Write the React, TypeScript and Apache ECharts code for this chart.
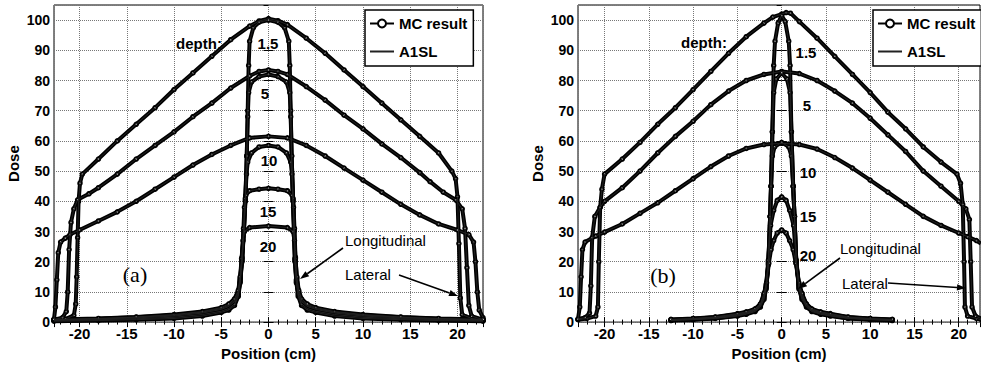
import React, { useEffect, useRef } from "react";
import * as echarts from "echarts";

type P = [number, number][];

// ---------- Panel (a) ----------
const aLat1: P = [[-22.7, 0.6], [-21.5, 1.0], [-20.6, 2.2], [-20.4, 6], [-20.3, 15], [-20.2, 28], [-20.1, 40], [-19.95, 46], [-19.7, 49], [-18, 54], [-16, 60], [-14, 65.5], [-12, 71], [-10, 77], [-8, 82.5], [-6, 88], [-4, 93.5], [-2, 98], [-1, 99.7], [0, 100.5], [1, 99.8], [2, 98.5], [4, 94], [6, 89], [8, 83.5], [10, 78], [12, 72.5], [14, 67], [16, 61.5], [18, 56], [19.4, 50], [19.8, 47.5], [20.0, 41.5], [20.15, 26], [20.3, 8], [20.5, 2.5], [21.5, 1.2], [22.7, 0.6]];
const aLat5: P = [[-22.7, 0.8], [-21.8, 1.5], [-21.4, 3.5], [-21.25, 10], [-21.1, 24], [-20.9, 33], [-20.6, 37.5], [-20.2, 40.5], [-19, 42.5], [-18, 44.5], [-16, 49], [-14, 54], [-12, 58.5], [-10, 63], [-8, 68], [-6, 72.5], [-4, 77.5], [-2, 81.5], [-1, 83], [0, 83.5], [1, 83], [2, 82], [4, 78], [6, 73.5], [8, 68.5], [10, 64], [12, 59], [14, 54.5], [16, 49.5], [17.1, 46.5], [18.5, 43], [19.8, 40.5], [20.5, 37.5], [20.8, 31], [21.0, 18], [21.2, 5.5], [21.5, 2], [22.7, 0.8]];
const aLat10: P = [[-22.7, 1.0], [-22.55, 5], [-22.4, 14], [-22.25, 23], [-22.0, 26.5], [-21.5, 27.8], [-21, 29], [-20, 30.5], [-18, 33.5], [-16, 36.5], [-14, 40], [-12, 44], [-10, 48], [-8, 52], [-6, 55.5], [-4, 58.5], [-2, 61], [0, 61.5], [2, 61], [4, 58.5], [6, 55], [8, 51], [10, 47], [12, 43], [14, 39], [16, 35.5], [18, 32.5], [20, 30.5], [21.2, 29], [21.7, 26.5], [21.9, 20], [22.1, 10], [22.3, 4], [22.7, 1.5]];
const aLong1: P = [[-22.7, 0.3], [-18, 0.5], [-14, 0.8], [-10, 1.2], [-7, 2], [-5, 3.2], [-4.2, 4], [-3.6, 5.5], [-3.2, 8.5], [-3.0, 13], [-2.8, 20], [-2.6, 30], [-2.45, 40], [-2.3, 55], [-2.2, 70], [-2.1, 85], [-2.0, 93], [-1.6, 97.5], [-1, 99.3], [0, 100], [1, 99.3], [1.7, 97.5], [2.15, 93], [2.25, 85], [2.35, 70], [2.45, 55], [2.6, 40], [2.7, 30], [2.8, 20], [2.95, 13], [3.15, 8.5], [3.5, 5.5], [4.1, 4], [5, 3.2], [7, 2], [10, 1.2], [14, 0.8], [18, 0.5], [22.7, 0.3]];
const aLong5: P = [[-22.7, 0.5], [-18, 0.8], [-14, 1.1], [-10, 1.6], [-7, 2.5], [-5, 3.6], [-4.2, 4.5], [-3.6, 6], [-3.2, 9], [-3.0, 13.5], [-2.8, 20.5], [-2.6, 30.5], [-2.45, 40.5], [-2.3, 55], [-2.2, 68], [-2.1, 76], [-1.8, 79.5], [-1, 81.3], [0, 82], [1, 81.3], [1.9, 79.5], [2.25, 76], [2.35, 68], [2.45, 55], [2.6, 40.5], [2.7, 30.5], [2.8, 20.5], [2.95, 13.5], [3.15, 9], [3.5, 6], [4.1, 4.5], [5, 3.6], [7, 2.5], [10, 1.6], [14, 1.1], [18, 0.8], [22.7, 0.5]];
const aLong10: P = [[-22.7, 0.7], [-18, 1.0], [-14, 1.4], [-10, 2.0], [-7, 3.0], [-5, 4.2], [-4.2, 5.2], [-3.6, 6.8], [-3.2, 9.5], [-3.0, 14], [-2.8, 21], [-2.6, 31], [-2.45, 41], [-2.33, 49], [-2.2, 53], [-1.8, 56], [-1, 58], [0, 58.5], [1, 58], [1.9, 56], [2.35, 53], [2.48, 49], [2.6, 41], [2.7, 31], [2.8, 21], [2.95, 14], [3.15, 9.5], [3.5, 6.8], [4.1, 5.2], [5, 4.2], [7, 3.0], [10, 2.0], [14, 1.4], [18, 1.0], [22.7, 0.7]];
const aLong15: P = [[-22.7, 0.8], [-18, 1.1], [-14, 1.6], [-10, 2.3], [-7, 3.3], [-5, 4.5], [-4.2, 5.6], [-3.6, 7.2], [-3.2, 10], [-3.0, 14.5], [-2.8, 21.5], [-2.65, 31], [-2.55, 38], [-2.4, 42], [-2, 43.5], [-1, 44], [0, 44.3], [1, 44], [2, 43.5], [2.5, 42], [2.65, 38], [2.75, 31], [2.85, 21.5], [3.0, 14.5], [3.2, 10], [3.5, 7.2], [4.1, 5.6], [5, 4.5], [7, 3.3], [10, 2.3], [14, 1.6], [18, 1.1], [22.7, 0.8]];
const aLong20: P = [[-22.7, 0.9], [-18, 1.2], [-14, 1.7], [-10, 2.5], [-7, 3.5], [-5, 4.8], [-4.2, 6], [-3.6, 7.7], [-3.2, 10.5], [-3.0, 15], [-2.85, 21], [-2.7, 27], [-2.55, 30], [-2, 31.3], [0, 31.8], [2, 31.3], [2.6, 30], [2.75, 27], [2.85, 21], [3.0, 15], [3.2, 10.5], [3.5, 7.7], [4.1, 6], [5, 4.8], [7, 3.5], [10, 2.5], [14, 1.7], [18, 1.2], [22.7, 0.9]];

// ---------- Panel (b) ----------
const bLat1: P = [[-23, 0.8], [-22, 1.2], [-21, 2], [-20.75, 5], [-20.65, 20], [-20.5, 38], [-20.3, 44], [-20.0, 49], [-18, 54], [-16, 59.5], [-14, 65.5], [-12, 71], [-10, 77], [-8, 83], [-6, 89], [-4, 94.5], [-2, 99], [-1, 101], [0, 102], [0.5, 102.5], [1, 102.3], [2, 99.5], [4, 94], [6, 88], [8, 82], [10, 76], [12, 69.5], [14, 64], [16, 58], [18, 53], [19.8, 49], [20.2, 46], [20.45, 39], [20.6, 20], [20.7, 5], [21, 2], [22, 1.2], [22.5, 0.8]];
const bLat5: P = [[-23, 1], [-22.2, 1.5], [-21.7, 3], [-21.55, 12], [-21.4, 28], [-21.1, 35], [-20.5, 38], [-20, 40], [-18, 44.5], [-16, 50], [-14, 56], [-12, 61.5], [-10, 66.5], [-8, 72], [-6, 76.5], [-4, 80], [-2, 82], [0, 83], [2, 82.3], [4, 80], [6, 76.5], [8, 72.5], [10, 67.5], [12, 62], [14, 56.5], [16, 50], [18, 45], [20, 40], [20.8, 37.5], [21.2, 34], [21.35, 20], [21.5, 5], [21.9, 2], [22.5, 1.2]];
const bLat10: P = [[-23, 1], [-22.8, 5], [-22.65, 15], [-22.5, 24], [-22.2, 26.5], [-21, 28.5], [-20, 29.8], [-18, 32.5], [-16, 36], [-14, 39.5], [-12, 43.5], [-10, 47.5], [-8, 51.5], [-6, 55], [-4, 57.5], [-2, 58.8], [0, 59.2], [2, 58.8], [4, 57.3], [6, 54.5], [8, 51], [10, 47], [12, 43], [14, 39], [16, 35], [18, 32], [20, 29.5], [21, 28.3], [22, 27], [22.5, 26]];
const bLong1: P = [[-12.5, 0.5], [-10, 0.8], [-7.5, 1.2], [-5, 2], [-4, 2.6], [-3, 3.5], [-2.4, 5], [-2, 7.5], [-1.75, 11], [-1.5, 19], [-1.3, 35], [-1.2, 45], [-1.05, 63], [-0.9, 85], [-0.75, 93], [-0.4, 99], [0, 101.5], [0.4, 99.5], [0.8, 93], [0.95, 85], [1.1, 63], [1.3, 45], [1.45, 35], [1.65, 20], [1.95, 11], [2.3, 7.5], [2.8, 5], [3.4, 3.5], [4.4, 2.6], [5.5, 2], [7.5, 1.2], [10, 0.8], [12.5, 0.5]];
const bLong5: P = [[-12.5, 0.6], [-10, 0.9], [-7.5, 1.3], [-5, 2.2], [-4, 2.8], [-3, 3.8], [-2.4, 5.3], [-2, 8], [-1.75, 11.5], [-1.5, 19.5], [-1.3, 35], [-1.2, 45], [-1.05, 63], [-0.9, 76], [-0.6, 80.5], [0, 82.5], [0.6, 80.5], [0.95, 76], [1.1, 63], [1.3, 45], [1.45, 35], [1.65, 20], [1.95, 11.5], [2.3, 8], [2.8, 5.3], [3.4, 3.8], [4.4, 2.8], [5.5, 2.2], [7.5, 1.3], [10, 0.9], [12.5, 0.6]];
const bLong10: P = [[-12.5, 0.7], [-10, 1.0], [-7.5, 1.5], [-5, 2.4], [-4, 3], [-3, 4], [-2.4, 5.6], [-2, 8.5], [-1.75, 12], [-1.5, 20], [-1.3, 35], [-1.2, 45], [-1.05, 55], [-0.8, 58], [0, 59.5], [0.8, 58], [1.1, 55], [1.3, 45], [1.45, 35], [1.65, 20], [1.95, 12], [2.3, 8.5], [2.8, 5.6], [3.4, 4], [4.4, 3], [5.5, 2.4], [7.5, 1.5], [10, 1.0], [12.5, 0.7]];
const bLong15: P = [[-12.5, 0.8], [-10, 1.1], [-7.5, 1.6], [-5, 2.6], [-4, 3.2], [-3, 4.2], [-2.4, 5.8], [-2, 9], [-1.75, 12.5], [-1.5, 20.5], [-1.25, 32], [-0.9, 37], [-0.5, 40.3], [0, 41.5], [0.5, 40.3], [0.9, 37], [1.35, 32], [1.65, 20.5], [1.95, 12.5], [2.3, 9], [2.8, 5.8], [3.4, 4.2], [4.4, 3.2], [5.5, 2.6], [7.5, 1.6], [10, 1.1], [12.5, 0.8]];
const bLong20: P = [[-12.5, 0.9], [-10, 1.2], [-7.5, 1.7], [-5, 2.8], [-4, 3.4], [-3, 4.4], [-2.4, 6], [-2, 9.5], [-1.7, 13], [-1.45, 19.5], [-1.2, 24], [-0.9, 27], [-0.5, 29.5], [0, 30.5], [0.5, 29.5], [0.9, 27], [1.3, 24], [1.6, 19.5], [1.95, 13], [2.3, 9.5], [2.8, 6], [3.4, 4.4], [4.4, 3.4], [5.5, 2.8], [7.5, 1.7], [10, 1.2], [12.5, 0.9]];

const panelACurves = [aLat1, aLat5, aLat10, aLong1, aLong5, aLong10, aLong15, aLong20];
const panelBCurves = [bLat1, bLat5, bLat10, bLong1, bLong5, bLong10, bLong15, bLong20];
const legendNames = ["MC result", "A1SL"];

const FONT = 'Arial, "Liberation Sans", Helvetica, sans-serif';
const SERIF = '"Liberation Serif", "Times New Roman", serif';

function buildSeries(curves: P[], xi: number, yi: number) {
  const out: any[] = [];
  for (const d of curves) {
    out.push({
      type: "line", name: legendNames[0], data: d, xAxisIndex: xi, yAxisIndex: yi,
      symbol: "emptyCircle", symbolSize: 3.5, showSymbol: true, showAllSymbol: true,
      lineStyle: { color: "#000", width: 4 },
      itemStyle: { color: "#000", borderColor: "#000", borderWidth: 1 },
      silent: true, z: 3,
    });
    out.push({
      type: "line", name: legendNames[1], data: d, xAxisIndex: xi, yAxisIndex: yi,
      symbol: "none", lineStyle: { color: "#222", width: 1 },
      itemStyle: { color: "rgba(0,0,0,0)", borderColor: "rgba(0,0,0,0)" },
      silent: true, z: 4,
    });
  }
  return out;
}

function xAxisPair(gridIndex: number, min: number, max: number) {
  const common = {
    type: "value", gridIndex, min, max, splitNumber: 9,
    axisLine: { show: false },
    axisTick: { show: true, inside: true, length: 5, lineStyle: { color: "#000", width: 1 } },
    minorTick: { show: true, splitNumber: 5, length: 2.5, lineStyle: { color: "#000" } },
  };
  return [
    {
      ...common, position: "bottom",
      axisLabel: { color: "#000", fontFamily: FONT, fontWeight: "bold", fontSize: 15, margin: 4, showMinLabel: false, showMaxLabel: false },
      splitLine: { show: true, lineStyle: { color: "#777", type: "dotted", width: 1 } },
      name: "Position (cm)", nameLocation: "middle", nameGap: 19,
      nameTextStyle: { color: "#000", fontFamily: FONT, fontWeight: "bold", fontSize: 15 },
    },
    { ...common, position: "top", axisLabel: { show: false }, splitLine: { show: false } },
  ];
}

function yAxisPair(gridIndex: number) {
  const common = {
    type: "value", gridIndex, min: 0, max: 105, interval: 10,
    axisLine: { show: false },
    axisTick: { show: true, inside: true, length: 5, lineStyle: { color: "#000", width: 1 } },
  };
  return [
    {
      ...common, position: "left",
      axisLabel: { color: "#000", fontFamily: FONT, fontWeight: "bold", fontSize: 14, margin: 4, showMaxLabel: false },
      splitLine: { show: true, lineStyle: { color: "#777", type: "dotted", width: 1 } },
      name: "Dose", nameLocation: "middle", nameGap: 33,
      nameTextStyle: { color: "#000", fontFamily: FONT, fontWeight: "bold", fontSize: 15 },
    },
    { ...common, position: "right", axisLabel: { show: false }, splitLine: { show: false } },
  ];
}

function legendAt(left: number, top: number) {
  return {
    data: legendNames, orient: "vertical", left, top,
    backgroundColor: "#fff", borderColor: "#000", borderWidth: 1.5,
    padding: [6, 6, 7, 4], itemWidth: 24, itemHeight: 10, itemGap: 13,
    textStyle: { color: "#000", fontFamily: FONT, fontWeight: "bold", fontSize: 15 },
    selectedMode: false, z: 20,
  };
}

function txt(text: string, x: number, y: number, size: number, opts: any = {}) {
  return {
    type: "text", x, y, z: 50, silent: true,
    style: {
      text, fill: "#000", fontFamily: opts.family || FONT, fontWeight: opts.weight || "bold",
      fontSize: size, align: opts.align || "center", verticalAlign: "middle",
    },
  };
}

function arrow(x1: number, y1: number, x2: number, y2: number) {
  const a = Math.atan2(y2 - y1, x2 - x1);
  const L = 9, W = 3.2;
  const bx = x2 - L * Math.cos(a), by = y2 - L * Math.sin(a);
  return [
    { type: "line", z: 50, silent: true, shape: { x1, y1, x2: bx, y2: by }, style: { stroke: "#000", lineWidth: 1.6 } },
    {
      type: "polygon", z: 50, silent: true,
      shape: { points: [[x2, y2], [bx + W * Math.sin(a), by - W * Math.cos(a)], [bx - W * Math.sin(a), by + W * Math.cos(a)]] },
      style: { fill: "#000" },
    },
  ];
}

export default function App() {
  const ref = useRef<HTMLDivElement>(null);
  useEffect(() => {
    if (!ref.current) return;
    const chart = echarts.init(ref.current, null, { renderer: "svg" });
    const option: any = {
      animation: false,
      backgroundColor: "#fff",
      grid: [
        { left: 54, top: 5, width: 429, height: 322, show: true, borderColor: "#000", borderWidth: 1, backgroundColor: "transparent" },
        { left: 578, top: 5, width: 402, height: 322, show: true, borderColor: "#000", borderWidth: 1, backgroundColor: "transparent" },
      ],
      xAxis: [...xAxisPair(0, -22.7, 22.7), ...xAxisPair(1, -23, 22.4)],
      yAxis: [...yAxisPair(0), ...yAxisPair(1)],
      legend: [legendAt(365, 10), legendAt(873, 10)],
      series: [...buildSeries(panelACurves, 0, 0), ...buildSeries(panelBCurves, 2, 2)],
      graphic: [
        txt("depth:", 199, 43, 15),
        txt("1.5", 268, 43, 15),
        txt("5", 265, 93, 15),
        txt("10", 269, 160, 15),
        txt("15", 268, 211, 15),
        txt("20", 268, 246, 15),
        txt("(a)", 135, 274, 22, { family: SERIF, weight: "normal" }),
        txt("Longitudinal", 345, 240, 15, { weight: "normal", align: "left" }),
        txt("Lateral", 345, 274, 15, { weight: "normal", align: "left" }),
        ...arrow(343, 248, 300, 279),
        ...arrow(399, 275, 458, 296),
        txt("depth:", 704, 42, 15),
        txt("1.5", 806, 52, 15),
        txt("5", 807, 105, 15),
        txt("10", 808, 172, 15),
        txt("15", 808, 216, 15),
        txt("20", 808, 255, 15),
        txt("(b)", 663, 275, 22, { family: SERIF, weight: "normal" }),
        txt("Longitudinal", 840, 248, 15, { weight: "normal", align: "left" }),
        txt("Lateral", 842, 283, 15, { weight: "normal", align: "left" }),
        ...arrow(840, 258, 798, 289),
        ...arrow(888, 283, 966, 288),
      ],
    };
    chart.setOption(option);
    return () => chart.dispose();
  }, []);
  return <div ref={ref} style={{ position: "absolute", left: 0, top: 0, width: 981, height: 366 }} />;
}
